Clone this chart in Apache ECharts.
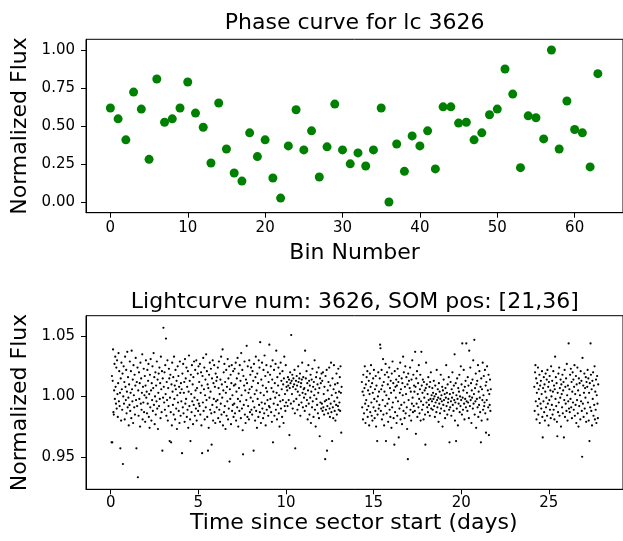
<!DOCTYPE html>
<html><head><meta charset="utf-8">
<script src="https://cdn.jsdelivr.net/npm/echarts@6/dist/echarts.min.js"></script>
<style>html,body{margin:0;padding:0;background:#fff}#c{width:623px;height:541px}</style>
</head><body><div id="c"></div>
<script>
// ---------- Phase curve (top) ----------
const binNumbers = [0,1,2,3,4,5,6,7,8,9,10,11,12,13,14,15,16,17,18,19,20,21,22,23,24,25,26,27,28,29,30,31,32,33,34,35,36,37,38,39,40,41,42,43,44,45,46,47,48,49,50,51,52,53,54,55,56,57,58,59,60,61,62,63];
const phaseFlux = [0.618,0.547,0.409,0.723,0.611,0.281,0.809,0.525,0.547,0.618,
  0.789,0.585,0.492,0.257,0.651,0.349,0.191,0.138,0.455,0.299,
  0.409,0.158,0.026,0.369,0.607,0.343,0.468,0.165,0.363,0.644,
  0.343,0.251,0.323,0.237,0.343,0.618,0.0,0.382,0.202,0.435,
  0.369,0.468,0.218,0.626,0.626,0.519,0.525,0.409,0.455,0.574,
  0.611,0.875,0.710,0.226,0.567,0.554,0.415,1.0,0.349,0.664,
  0.477,0.455,0.231,0.844];
const binTicks = [0,10,20,30,40,50,60];
const phaseFluxTicks = [0,0.25,0.5,0.75,1.0];

// ---------- Light curve (bottom) ----------
const timeTicks = [0,5,10,15,20,25];
const lcFluxTicks = [0.95,1.00,1.05];
const segStartDays = [0.05,14.33,24.17];
const cadenceDays = 0.020833;
// flux deviations from 1.0 in parts per thousand, one row per day of samples
const seg1FluxPpt = [
-38,17,-38,13,39,-13,-15,5,27,-2,33,8,-6,24,-10,30,2,-17,11,36,-4,21,-8,3,-43,15,-20,28,6,-11,19,-56,0,25,-6,12,-19,33,8,-3,22,-14,4,37,-9,16,-1,-24,
10,-7,29,-12,3,21,-18,38,6,-4,14,-22,26,1,-9,18,-15,9,32,-3,-43,12,-8,24,-67,5,-16,20,-2,11,-25,28,-6,15,-11,3,35,-19,8,-5,23,-13,1,17,-21,9,30,-1,
4,-14,22,-6,13,27,-17,2,-26,18,-9,31,5,-20,11,-3,25,-12,7,36,-7,16,-23,0,20,-15,9,-4,29,-10,14,-27,3,19,-8,24,-2,11,-18,33,6,-13,21,-45,15,-1,57,8,
-5,20,-11,26,2,48,-16,12,-3,30,-20,7,-8,23,15,-37,-1,18,-13,-38,10,-24,28,4,-7,16,-15,33,-2,9,-19,22,6,-10,13,-27,1,25,-5,17,-12,8,-22,29,3,-16,11,-4,
6,-47,19,-9,27,-14,3,12,-21,31,-6,15,-2,24,-17,8,-11,21,-26,4,34,-8,13,-19,-37,18,2,-13,26,-4,10,-23,16,-7,29,-1,-16,22,5,-10,30,-20,7,-3,19,-12,25,-6,
12,-8,27,-15,3,20,-24,9,-47,17,-5,32,-12,6,24,-19,1,14,-9,35,-3,21,-17,10,-45,7,-26,18,-1,28,-11,4,23,-14,-40,15,-7,30,-20,11,-2,26,-13,8,-22,19,-4,13,
-9,16,-3,24,-18,7,29,-11,2,-21,14,-6,33,-15,10,-1,39,-24,5,20,-13,27,-8,12,-27,3,22,-16,8,-4,31,-19,15,-10,25,-54,6,-2,18,-23,11,26,-12,1,-7,21,-17,9,
-6,23,-14,10,28,-20,4,15,-9,32,-2,-25,19,7,-12,26,-4,13,-18,36,1,-10,22,-28,-48,17,-7,9,29,-15,5,-22,14,-3,42,11,-17,25,-8,3,-19,30,6,-13,18,-1,24,-11,
8,-15,21,-4,13,-45,27,-9,2,-20,16,33,-12,5,-26,19,-2,11,-17,30,-7,24,-13,45,3,-22,14,-5,28,-10,9,-18,22,1,-14,34,-6,17,-24,7,26,-11,4,-3,20,-16,12,-8,
43,-9,18,-2,25,-13,7,-21,14,30,-38,4,-6,22,-16,11,-1,27,-11,38,3,-19,16,-7,9,24,-14,1,-25,19,-4,28,-10,13,6,-17,21,-3,10,-22,15,33,-8,2,-12,26,-5,8,
12,5,-8,16,9,-3,14,-32,7,20,11,-6,51,13,2,18,-10,8,15,-4,10,22,-14,-43,6,13,-2,17,9,-11,4,25,12,-7,15,1,19,-16,8,11,-5,14,28,3,-9,16,6,-1,
7,-12,38,2,15,-8,21,-3,11,-19,5,26,-6,13,-15,9,-1,18,-22,4,14,-9,23,-4,8,-17,12,1,30,-11,6,-25,16,-2,20,-7,10,-14,3,24,-18,7,-33,15,-5,11,-10,19,
-6,13,-12,20,-9,2,-15,8,-4,-52,17,-11,-3,22,-45,-8,5,-14,12,-2,24,-10,-17,9,-6,28,-13,1,-37,15,-9,-18,6,26,-4,-12,10,-20,3,-7,19,-15,-1,11,-8,23,-11,4,
-5,16,-12,25,3,-30,8];
const seg2FluxPpt = [
12,-9,4,-19,18,1,-14,7,25,-6,-22,10,-3,16,-11,21,-17,5,-8,13,-24,2,19,-13,8,26,-5,-16,11,-20,3,15,-9,22,-2,-18,6,-12,17,-25,9,-4,-37,-15,0,20,-10,4,
-7,15,43,40,-12,6,22,-19,9,-3,31,-15,12,-24,4,18,-8,27,-37,1,-14,20,-6,10,-21,16,-2,24,-11,7,-17,13,3,-26,19,-9,29,-5,11,-18,5,-40,21,-13,8,-1,14,-22,
9,-16,23,-4,12,-34,17,-10,3,28,-19,6,-7,15,-23,11,1,33,-12,20,-5,-18,8,25,-14,2,16,-9,-27,10,-52,19,-3,13,-16,7,24,-11,4,-20,14,-6,30,-1,-13,18,-8,9,
4,-12,37,8,-31,15,-6,21,-17,2,11,-9,26,-2,-14,6,18,-20,-4,37,9,-11,3,14,-7,-19,12,-1,5,-15,-40,7,28,-5,10,-9,2,-13,16,-3,-7,8,-16,12,-2,20,-10,1,
-4,7,-11,3,-2,13,-8,0,-17,9,-5,2,-13,22,-3,-9,6,-1,-21,11,-6,4,-14,-2,18,-10,1,-4,8,-25,5,-7,14,-3,-12,2,-18,7,-1,26,-8,3,-15,10,-5,-2,16,-11,
-38,2,-9,12,-4,-16,6,-1,20,-7,3,-12,9,-3,35,-20,-5,11,-37,1,-10,15,-2,-24,7,-6,4,18,-13,0,-8,25,-3,10,-15,44,-1,-11,5,22,-6,-19,8,-2,13,-9,44,-4,
3,-12,16,-5,9,-18,38,0,-8,24,-3,11,-22,5,-1,14,-10,30,-6,2,47,-15,7,-4,19,-26,10,-2,13,-9,26,-17,4,-7,21,-1,-13,8,-38,15,-20,6,-3,28,-11,1,17,-8,
-5,22,-14,9,-30,12,-3,25,-19,5,-9,18,-32,2,-7,14,-12,6];
const seg3FluxPpt = [
8,-12,20,26,-4,15,-19,3,11,-8,24,-15,6,-2,18,-22,9,-6,13,-10,2,21,-17,-34,7,-4,16,-13,10,-20,4,19,-9,-1,14,-16,22,-6,8,-24,12,-3,17,-11,5,-18,25,0,
-7,13,-15,4,21,-11,9,-19,6,33,-2,16,-8,11,-21,-33,3,-13,19,-5,24,-16,7,-1,14,-25,10,2,-9,18,-14,5,12,-34,-3,22,-17,8,-6,15,-12,27,1,-20,9,-4,44,-10,
6,-13,18,-2,23,-9,12,-18,4,20,-5,14,-11,8,26,-16,2,-7,17,-22,10,-3,24,-14,5,-25,15,-8,11,1,-19,21,-4,13,-12,-50,32,-6,9,-17,3,19,-10,7,-1,16,-21,12,
-14,8,22,-5,15,-20,3,-37,11,-9,44,18,-12,6,-24,13,-2,20,-16,9,-7,25,-19,4,-11,14,-22,1,17,-6,-18,10];

const FONT = 'DejaVu Sans';
const segs = [seg1FluxPpt, seg2FluxPpt, seg3FluxPpt];
const lcData = [];
segs.forEach((arr, s) => arr.forEach((v, i) => lcData.push([segStartDays[s] + i * cadenceDays, 1 + v / 1000])));
const phaseData = binNumbers.map((b, i) => [b, phaseFlux[i]]);

const chart = echarts.init(document.getElementById('c'), null, {renderer: 'canvas', width: 623, height: 541});

function axisCommon(ticks, fmt, margin) {
  return {
    type: 'value',
    axisLine: {show: true, onZero: false, lineStyle: {color: '#000', width: 1}},
    axisTick: {show: true, inside: false, length: 5, customValues: ticks, lineStyle: {color: '#000', width: 1}},
    axisLabel: {show: true, customValues: ticks, formatter: fmt, fontFamily: FONT, fontSize: 15, color: '#000', margin: margin},
    splitLine: {show: false}
  };
}

const option = {
  animation: false,
  backgroundColor: '#fff',
  grid: [
    {left: 86, top: 39.3, width: 538, height: 173.4, show: true, borderColor: '#000', borderWidth: 1, backgroundColor: 'transparent'},
    {left: 86, top: 315.7, width: 538, height: 173.6, show: true, borderColor: '#000', borderWidth: 1, backgroundColor: 'transparent'}
  ],
  xAxis: [
    Object.assign(axisCommon(binTicks, v => String(v), 8), {gridIndex: 0, min: -3.15, max: 66.25}),
    Object.assign(axisCommon(timeTicks, v => String(v), 6.5), {gridIndex: 1, min: -1.41, max: 29.23})
  ],
  yAxis: [
    Object.assign(axisCommon(phaseFluxTicks, v => v.toFixed(2), 11), {gridIndex: 0, min: -0.07, max: 1.07}),
    Object.assign(axisCommon(lcFluxTicks, v => v.toFixed(2), 11), {gridIndex: 1, min: 0.923, max: 1.067})
  ],
  series: [
    {type: 'scatter', xAxisIndex: 0, yAxisIndex: 0, data: phaseData, symbol: 'circle', symbolSize: 9,
     itemStyle: {color: '#008000', opacity: 1}, silent: true},
    {type: 'scatter', xAxisIndex: 1, yAxisIndex: 1, data: lcData, symbol: 'circle', symbolSize: 2.2,
     itemStyle: {color: '#000', opacity: 1}, silent: true, large: false}
  ],
  graphic: [
    {type: 'text', x: 354.6, y: 23.5, style: {text: 'Phase curve for lc 3626', fontFamily: FONT, fontSize: 22, fill: '#000', align: 'center', verticalAlign: 'middle', textAlign: 'center', textVerticalAlign: 'middle'}},
    {type: 'text', x: 354.6, y: 253.5, style: {text: 'Bin Number', fontFamily: FONT, fontSize: 22, fill: '#000', align: 'center', verticalAlign: 'middle', textAlign: 'center', textVerticalAlign: 'middle'}},
    {type: 'text', x: 20, y: 126, rotation: Math.PI / 2, style: {text: 'Normalized Flux', fontFamily: FONT, fontSize: 22, fill: '#000', align: 'center', verticalAlign: 'middle', textAlign: 'center', textVerticalAlign: 'middle'}},
    {type: 'text', x: 354.8, y: 302.4, style: {text: 'Lightcurve num: 3626, SOM pos: [21,36]', fontFamily: FONT, fontSize: 22, fill: '#000', align: 'center', verticalAlign: 'middle', textAlign: 'center', textVerticalAlign: 'middle'}},
    {type: 'text', x: 353.8, y: 523.2, style: {text: 'Time since sector start (days)', fontFamily: FONT, fontSize: 22, fill: '#000', align: 'center', verticalAlign: 'middle', textAlign: 'center', textVerticalAlign: 'middle'}},
    {type: 'text', x: 20, y: 402.5, rotation: Math.PI / 2, style: {text: 'Normalized Flux', fontFamily: FONT, fontSize: 22, fill: '#000', align: 'center', verticalAlign: 'middle', textAlign: 'center', textVerticalAlign: 'middle'}}
  ]
};
chart.setOption(option);
</script>
</body></html>
